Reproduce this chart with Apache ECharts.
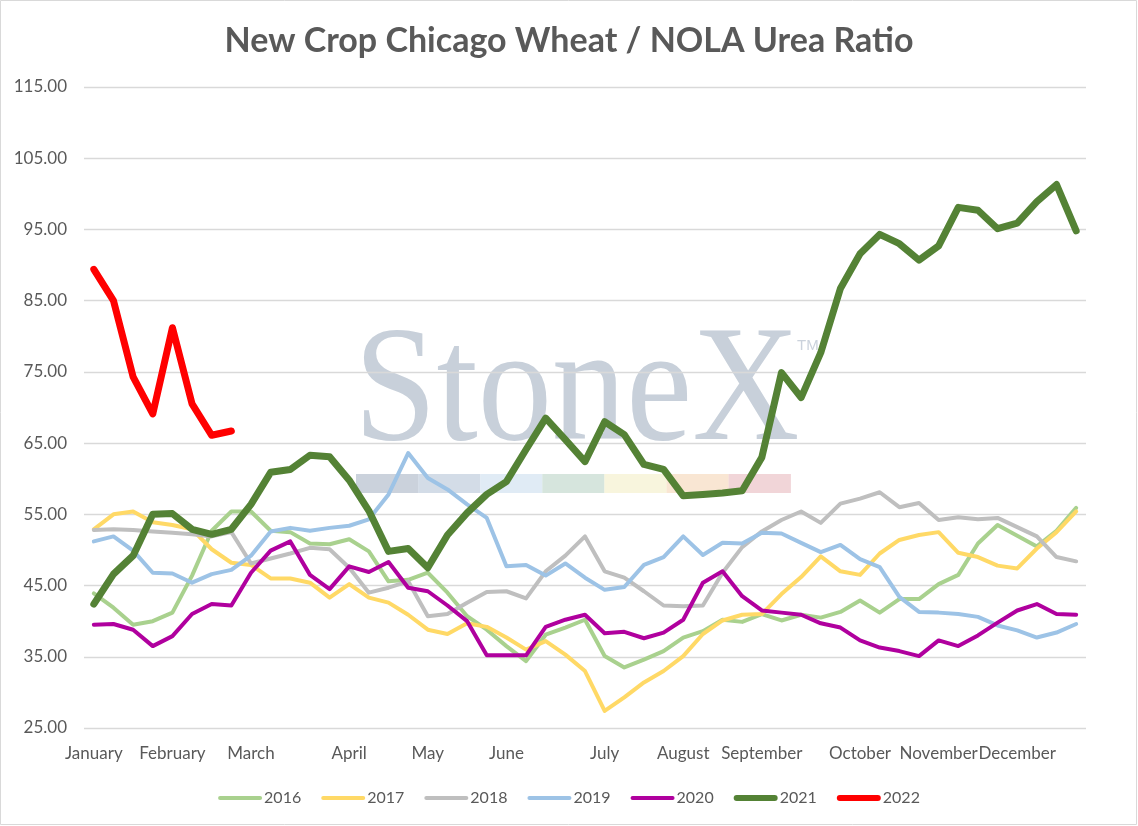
<!DOCTYPE html>
<html>
<head>
<meta charset="utf-8">
<script src="https://cdn.jsdelivr.net/npm/echarts@6/dist/echarts.min.js"></script>
<style>
html,body{margin:0;padding:0;background:#fff;}
#chart{width:1138px;height:826px;}
</style>
</head>
<body>
<div id="chart"></div>
<script>
// Weekly categories (51 weeks)
const weeks = ['1','2','3','4','5','6','7','8','9','10','11','12','13','14','15','16','17','18','19','20','21','22','23','24','25','26','27','28','29','30','31','32','33','34','35','36','37','38','39','40','41','42','43','44','45','46','47','48','49','50','51'];
// Month tick labels shown under the week categories
const monthLabels = ['January','','','','February','','','','March','','','','','April','','','','May','','','','June','','','','','July','','','','August','','','','September','','','','','October','','','','November','','','','December','','',''];
const yTicks = [25,35,45,55,65,75,85,95,105,115];

const s2016 = [43.9,41.9,39.5,40.0,41.2,46.4,52.7,55.4,55.4,52.7,52.5,50.9,50.8,51.5,49.8,45.6,45.8,46.8,44.0,40.7,38.8,36.5,34.4,38.1,39.1,40.2,35.1,33.5,34.6,35.8,37.7,38.6,40.2,39.9,41.0,40.1,40.9,40.5,41.3,42.9,41.2,43.1,43.1,45.2,46.5,50.9,53.5,52.0,50.5,52.7,55.9];
const s2017 = [52.9,55.0,55.4,53.9,53.5,52.9,50.1,48.2,47.9,46.0,46.0,45.4,43.3,45.2,43.3,42.6,40.9,38.8,38.2,39.7,39.2,37.7,36.0,37.2,35.3,33.0,27.4,29.3,31.4,33.0,35.1,38.2,40.1,40.9,41.0,43.8,46.2,49.1,47.0,46.5,49.5,51.4,52.1,52.5,49.6,49.0,47.8,47.4,50.2,52.5,55.4];
const s2018 = [52.8,52.9,52.8,52.6,52.4,52.2,51.9,52.5,48.1,48.8,49.5,50.3,50.1,47.5,44.0,44.7,45.6,40.7,41.0,42.6,44.1,44.2,43.2,47.0,49.2,51.9,47.0,46.1,44.2,42.2,42.1,42.2,46.8,50.4,52.6,54.2,55.4,53.8,56.5,57.2,58.1,56.0,56.6,54.2,54.6,54.3,54.5,53.2,51.9,49.0,48.4];
const s2019 = [51.2,51.9,49.9,46.8,46.7,45.4,46.6,47.2,49.2,52.6,53.1,52.7,53.1,53.4,54.3,57.8,63.6,60.1,58.5,56.4,54.5,47.7,47.9,46.4,48.1,46.1,44.4,44.8,47.9,49.0,51.9,49.3,51.0,50.9,52.4,52.3,51.0,49.7,50.7,48.7,47.6,43.4,41.3,41.2,41.0,40.6,39.4,38.7,37.7,38.4,39.6];
const s2020 = [39.5,39.6,38.8,36.5,37.9,41.0,42.4,42.2,46.8,49.9,51.2,46.5,44.5,47.7,46.9,48.3,44.7,44.2,42.2,40.0,35.2,35.2,35.2,39.2,40.2,40.9,38.3,38.5,37.6,38.4,40.2,45.4,47.0,43.5,41.5,41.2,40.9,39.7,39.1,37.3,36.3,35.8,35.1,37.3,36.5,38.0,39.8,41.5,42.4,41.0,40.9];
const s2021 = [42.4,46.6,49.2,55.0,55.1,52.9,52.2,52.9,56.4,60.9,61.3,63.3,63.1,59.8,55.5,49.8,50.2,47.5,52.1,55.2,57.8,59.6,64.1,68.5,65.5,62.4,68.0,66.2,62.0,61.3,57.6,57.8,58.0,58.3,63.0,74.9,71.4,77.7,86.7,91.6,94.3,93.0,90.7,92.7,98.1,97.7,95.1,95.9,98.9,101.3,94.8];
const s2022 = [89.4,85.0,74.3,69.1,81.2,70.5,66.1,66.7];

const seriesNames = ['2016','2017','2018','2019','2020','2021','2022'];
const seriesData = [s2016,s2017,s2018,s2019,s2020,s2021,s2022];
const seriesColors = ['#A9D18E','#FFD966','#BFBFBF','#9DC3E6','#B0009E','#548235','#FF0000'];
const seriesWidths = [4,4,4,4,4,7,7];

const thinIcon = 'path://M2,0L42,0Q44,0,44,2Q44,4,42,4L2,4Q0,4,0,2Q0,0,2,0Z';
const thickIcon = 'path://M3,0L41,0Q44,0,44,3Q44,6,41,6L3,6Q0,6,0,3Q0,0,3,0Z';

const txt = '#595959';
const font = 'Lato';

const stripeColors = ['#cbd2dc','#d3dce7','#e0ebf5','#d6e5dd','#f8f5dd','#f9e6d3','#f1d5d8'];
const graphics = [
  {type:'rect', z:-5, silent:true, shape:{x:0.5,y:0.5,width:1136,height:824}, style:{fill:'none',stroke:'#d9d9d9',lineWidth:1}},
  {type:'text', z:-5, silent:true, x:354, y:396, scaleX:0.9, style:{text:'StoneX', x:0, y:0, font:'165px "Liberation Serif"', fill:'#c8d0da', textAlign:'left', textVerticalAlign:'middle'}},
  {type:'text', z:-5, silent:true, x:797, y:346, style:{text:'TM', x:0, y:0, font:'15px "Liberation Sans"', fill:'#cbd2dc', textAlign:'left', textVerticalAlign:'middle'}}
];
stripeColors.forEach(function(c, i){
  graphics.push({type:'rect', z:-5, silent:true, shape:{x:356 + i*62.1, y:474, width:62.3, height:19}, style:{fill:c}});
});

const chart = echarts.init(document.getElementById('chart'), null, {renderer:'canvas'});
chart.setOption({
  animation:false,
  backgroundColor:'#ffffff',
  title:{
    text:'New Crop Chicago Wheat / NOLA Urea Ratio',
    left:'center', top:19,
    textStyle:{color:txt, fontFamily:font, fontWeight:'bold', fontSize:34}
  },
  graphic:graphics,
  legend:{
    data:seriesNames.map(function(n,i){ return {name:n, icon: i>=5 ? thickIcon : thinIcon}; }),
    left:'center', top:785,
    itemWidth:44, itemHeight:7, itemGap:20,
    itemStyle:{borderWidth:0},
    textStyle:{color:txt, fontFamily:font, fontSize:16, padding:[0,0,0,-3]},
    selectedMode:false
  },
  grid:{left:84, right:52, top:87, bottom:98},
  xAxis:{
    type:'category',
    data:weeks,
    boundaryGap:true,
    axisLine:{show:false},
    axisTick:{show:false},
    splitLine:{show:false},
    axisLabel:{
      interval:0, margin:17, hideOverlap:false,
      color:txt, fontFamily:font, fontSize:17,
      formatter:function(v, idx){ return monthLabels[idx]; }
    }
  },
  yAxis:{
    type:'value',
    min:25, max:115,
    axisLine:{show:false},
    axisTick:{show:false, customValues:yTicks},
    axisLabel:{customValues:yTicks, margin:17, color:txt, fontFamily:font, fontSize:17,
      formatter:function(v){ return v.toFixed(2); }},
    splitLine:{show:true, lineStyle:{color:'#d9d9d9', width:1.3}}
  },
  series:seriesNames.map(function(n,i){
    return {
      name:n, type:'line', data:seriesData[i],
      symbol:'none', showSymbol:false, smooth:false,
      color:seriesColors[i],
      lineStyle:{color:seriesColors[i], width:seriesWidths[i], cap:'round', join:'round'},
      emphasis:{disabled:true},
      z: 2 + i
    };
  })
});
</script>
</body>
</html>
